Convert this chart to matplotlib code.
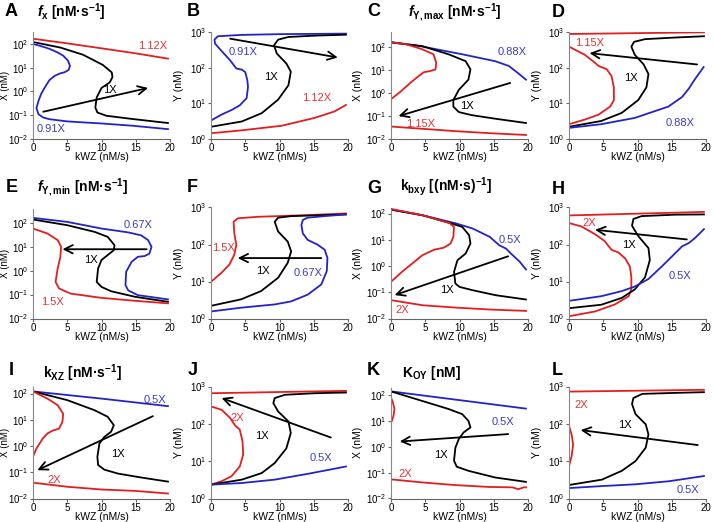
import matplotlib
matplotlib.use("Agg")
import matplotlib.pyplot as plt

plt.rcParams['font.family'] = ['Liberation Sans', 'DejaVu Sans']
plt.rcParams['mathtext.fontset'] = 'custom'
plt.rcParams['mathtext.rm'] = 'Liberation Sans'
plt.rcParams['mathtext.it'] = 'Liberation Sans:bold:italic'
plt.rcParams['mathtext.bf'] = 'Liberation Sans:bold'

RED = '#e41e1e'
BLUE = '#2323c8'
RED_T = '#e03535'
BLUE_T = '#3c3cc8'

# ---- curve data: (kWZ, value) ----
# A : X vs kWZ, parameter f_x
A_red = [(0,165),(5,105),(10,65),(15,40),(19.7,24)]
A_black = [(0,120),(4,70),(7.3,35),(10.2,13),(11.5,6.3),(11.6,4),(11.2,2.4),(10,1.4),(9.3,0.56),
           (9.1,0.21),(9.4,0.13),(10.7,0.095),(14.6,0.069),(19.7,0.047)]
A_blue = [(0,100),(1.2,80),(2.4,62),(3.5,45),(4.4,32),(5.1,20),(5.4,12),(5.2,8),(4.6,6.4),(4.0,5.8),
          (3.2,4.6),(2.4,3),(1.8,1.6),(1.2,0.8),(0.8,0.4),(0.5,0.2),(0.8,0.11),(1.5,0.08),(2.4,0.068),
          (5,0.055),(7.3,0.05),(10,0.045),(14.6,0.036),(19.7,0.026)]
# B : Y vs kWZ, parameter f_x
B_blue = [(0,3.3),(1.5,4.8),(3,6.5),(4.2,8.8),(5.2,14),(5.4,29),(5.3,45),(5,75),(4.5,88),(3.7,95),
          (2.8,160),(1.5,300),(0.6,470),(0.5,610),(1,760),(4.5,830),(10,870),(19.7,900)]
B_black = [(0,2.2),(4.5,3.1),(7.4,5.3),(9.8,12.7),(11.3,32),(11.65,77),(11,131),(9.6,250),(9.2,425),
           (9.8,610),(11.3,725),(15.1,790),(19.7,840)]
B_red = [(0,1.45),(4.5,1.75),(10.3,2.35),(15.1,3.9),(18,5.9),(19.7,9)]
# C : X, parameter f_Y,max
C_blue = [(0,170),(4.5,110),(10.4,50),(15.2,25),(17.2,15.5),(18.6,7.3),(19.7,3.9)]
C_black = [(0,165),(4.5,115),(8.4,50),(10.9,25),(11.6,11),(11.3,3.9),(9.9,1.4),(9.1,0.5),(9.1,0.26),
           (9.9,0.15),(11.8,0.11),(15.2,0.077),(19.7,0.05)]
C_red_hi = [(0,165),(2.1,140),(4.5,84),(6.2,50),(6.6,21.5),(6.5,11),(5.7,9.2),(4.8,8.3),(4,5.5),
            (2.8,2.8),(1.4,1.17),(0,0.55)]
C_red_lo = [(0,0.035),(4.5,0.028),(9.4,0.022),(14.3,0.018),(19.7,0.015)]
# D : Y, parameter f_Y,max
D_red_hi = [(0,880),(19.7,980)]
D_red_lo = [(0,390),(2.3,230),(3.8,137),(4.3,112),(5.5,90),(6.2,59),(6.55,28),(6.55,12.3),(6,8.1),
            (4.3,4.8),(2.3,3.5),(0,2.6)]
D_black = [(0,2.2),(4.7,3.2),(7.7,5.4),(10.1,12.3),(11.3,28),(11.6,66),(10.9,123),(9.6,230),(9.1,390),
           (9.5,530),(11.1,630),(15.5,700),(19.7,760)]
D_blue = [(0,2.05),(4.7,2.6),(9.6,3.9),(14.5,8.1),(16.5,15),(17.5,26),(18.4,48),(19.65,104)]
# E : X, parameter f_Y,min
E_blue = [(0,162),(5,110),(10,58),(13.9,40),(15.8,30),(16.8,19),(17.3,10),(17,5.2),(16.3,4.1),(15.3,3.8),
          (14.4,2.35),(13.6,0.9),(13.5,0.25),(13.9,0.15),(15.3,0.095),(19.7,0.063)]
E_black = [(0,138),(5,80),(9,42),(10.9,26),(11.9,11.7),(11.8,7.2),(10.9,4.5),(10,2.8),(9.5,1.23),
           (9.3,0.34),(10,0.21),(11.4,0.138),(14.9,0.081),(19.7,0.05)]
E_red = [(0,58),(2.1,36),(3.6,19),(4.1,10),(4,3.8),(3.6,1.23),(3.3,0.34),(3.8,0.18),(5.5,0.11),
         (10,0.073),(14.9,0.055),(19.7,0.043)]
# F : Y, parameter f_Y,min
F_red = [(0,9.8),(1.5,17),(2.7,29),(3.4,53),(3.7,98),(3.4,200),(3.3,413),(3.9,510),(6.8,560),
         (14.1,623),(19.7,690)]
F_black = [(0,2.2),(4.4,3.3),(7.3,5.5),(9.8,12.6),(11.2,32),(11.7,65),(11.2,120),(9.8,224),(9.3,413),
           (9.8,530),(11.7,585),(16.6,623),(19.7,650)]
F_blue = [(0,1.55),(4.4,1.96),(9.3,2.4),(11.7,2.9),(14.1,4.4),(16.1,8.3),(16.9,19),(17,43),(16.6,72),
          (15.6,98),(14.1,134),(13.4,200),(13.2,336),(13.4,460),(14.1,530),(16.6,585),(19.7,650)]
# G : X, parameter k_bxy
G_blue = [(0,142),(4.6,86),(9.5,42),(11.9,27),(14.4,13),(15.8,6.2),(16.8,4.6),(17.5,3.0),(18.8,1.45),
          (19.7,0.74)]
G_black = [(0,142),(4.6,86),(8.5,44),(10.4,31),(11.4,15),(11.6,7.2),(10.9,3.0),(9.7,1.66),(9.2,0.6),
           (9.4,0.215),(10,0.16),(11.9,0.12),(15.3,0.077),(19.7,0.053)]
G_red_hi = [(0,150),(4.6,86),(8.5,44),(9.2,31),(9.1,13),(8.7,7.2),(7.7,5),(6.3,4.2),(4.6,2.6),
            (3.1,1.25),(1.6,0.6),(0,0.25)]
G_red_lo = [(0,0.05),(4.6,0.032),(9.5,0.026),(14.4,0.022),(19.7,0.0195)]
# H : Y, parameter k_bxy
H_red_hi = [(0,610),(19.7,760)]
H_red_lo = [(0,380),(1.8,308),(3.8,190),(5.2,124),(6.2,72),(7.2,61),(8.2,42),(8.9,25),(9.1,13),
            (9.1,6.2),(8.7,4),(6.7,2.4),(3.8,1.55),(0,1.15)]
H_black = [(0,1.9),(4.7,2.35),(7.7,3.6),(9.6,6.1),(11.1,13),(11.8,38),(11.6,80),(10.1,170),(9.2,322),
           (9.4,490),(10.6,585),(15.5,640),(19.7,650)]
H_blue = [(0,3.0),(4.7,4),(7.7,5.5),(9.6,7.3),(11.6,11.7),(13.5,25),(15,47),(16.5,89),(17.5,110),
          (18.4,150),(19.7,260)]
# I : X, parameter k_XZ
I_blue = [(0,120),(10,64),(19.7,33)]
I_black = [(0,120),(5,56),(9,23),(10.9,13),(11.8,6.2),(11.4,3.5),(10.4,2.2),(9.7,1.25),(9.4,0.39),
           (9.5,0.19),(10.4,0.126),(12.4,0.089),(15.8,0.063),(19.7,0.044)]
I_red_hi = [(0,120),(2.1,64),(3.6,36),(4.4,17),(4.3,8.3),(3.8,4.6),(2.8,3.8),(2.1,3.0),(1.4,1.9),
            (0.5,0.8),(0,0.4)]
I_red_lo = [(0,0.04),(5,0.028),(10,0.022),(14.9,0.0195),(19.7,0.0155)]
# J : Y, parameter k_XZ
J_red_hi = [(0,660),(19.7,765)]
J_red_lo = [(0,292),(1.55,238),(2.8,143),(3.5,91),(4.2,70),(4.6,34),(4.7,15),(4.2,7.2),(3,3.96),
            (1.55,2.9),(0,2.35)]
J_black = [(0,2.35),(4.5,3.2),(7.4,4.8),(9.3,8.9),(11,22),(11.65,57),(11.3,116),(9.8,215),(9.1,358),
           (9.3,490),(10.8,600),(15.1,660),(19.7,690)]
J_blue = [(0,2.35),(4.5,2.6),(9.3,3.2),(14.2,4.6),(19.7,7.2)]
# K : X, parameter K_OY
K_blue = [(0,139),(19.7,30)]
K_black = [(0,139),(4.5,60),(8.4,29),(10.4,18.3),(11.3,10.1),(11.6,5.6),(10.6,3.6),(9.9,2.0),(9.4,0.93),
           (9.2,0.29),(9.6,0.17),(11.3,0.118),(15.2,0.065),(19.7,0.044)]
K_red_arc = [(0,80),(0.3,50),(0.5,28),(0.35,15),(0,8.5)]
K_red_lo = [(0,0.055),(4.5,0.042),(9.4,0.033),(14.3,0.028),(17.7,0.027),(18.6,0.023),(19.4,0.027),
            (19.7,0.027)]
# L : Y, parameter K_OY
L_red_hi = [(0,730),(19.7,815)]
L_red_arc = [(0,89),(0.4,50),(0.6,28),(0.4,14),(0,7.4)]
L_black = [(0,2.3),(4.8,3.2),(7.7,5.5),(9.7,10),(11.2,23),(11.6,52),(11.2,97),(9.7,183),(9.2,340),
           (9.4,490),(10.7,635),(15.6,675),(19.7,705)]
L_blue = [(0,1.9),(4.8,2.15),(9.7,2.4),(14.6,2.9),(19.7,4.0)]

panels = [
    dict(letter='A', var='X', ytop=316, lines=[(A_red, RED), (A_black, 'k'), (A_blue, BLUE)],
         arrow=((1.5, 0.14), (16.8, 1.4)),
         labels=[('1.12X', 17.4, 85, RED_T), ('1X', 11.2, 1.1, 'k'), ('0.91X', 2.7, 0.026, BLUE_T)]),
    dict(letter='B', var='Y', ytop=1000, lines=[(B_blue, BLUE), (B_black, 'k'), (B_red, RED)],
         arrow=((2.8, 650), (18.5, 193)),
         labels=[('0.91X', 4.7, 277, BLUE_T), ('1X', 8.8, 54, 'k'), ('1.12X', 15.4, 14, RED_T)]),
    dict(letter='C', var='X', ytop=470, lines=[(C_blue, BLUE), (C_black, 'k'), (C_red_hi, RED), (C_red_lo, RED)],
         arrow=((17.4, 2.8), (1.1, 0.1)),
         labels=[('0.88X', 17.7, 60, BLUE_T), ('1X', 11.1, 0.28, 'k'), ('1.15X', 4.3, 0.047, RED_T)]),
    dict(letter='D', var='Y', ytop=1000, lines=[(D_red_hi, RED), (D_red_lo, RED), (D_black, 'k'), (D_blue, BLUE)],
         arrow=((18.7, 123), (3.0, 255)),
         labels=[('1.15X', 3.0, 500, RED_T), ('1X', 9.0, 51, 'k'), ('0.88X', 16.2, 2.75, BLUE_T)]),
    dict(letter='E', var='X', ytop=440, lines=[(E_blue, BLUE), (E_black, 'k'), (E_red, RED)],
         arrow=((16.6, 7.9), (4.3, 7.9)),
         labels=[('0.67X', 15.3, 80, BLUE_T), ('1X', 8.5, 2.75, 'k'), ('1.5X', 2.8, 0.05, RED_T)]),
    dict(letter='F', var='Y', ytop=1000, lines=[(F_red, RED), (F_black, 'k'), (F_blue, BLUE)],
         arrow=((16.1, 43), (3.9, 43)),
         labels=[('1.5X', 1.85, 80, RED_T), ('1X', 7.6, 19, 'k'), ('0.67X', 14.1, 17, BLUE_T)]),
    dict(letter='G', var='X', ytop=170, lines=[(G_blue, BLUE), (G_black, 'k'), (G_red_hi, RED), (G_red_lo, RED)],
         arrow=((17.1, 2.35), (0.54, 0.078)),
         labels=[('0.5X', 17.3, 9.6, BLUE_T), ('1X', 8.1, 0.12, 'k'), ('2X', 1.6, 0.022, RED_T)]),
    dict(letter='H', var='Y', ytop=1000, lines=[(H_red_hi, RED), (H_red_lo, RED), (H_black, 'k'), (H_blue, BLUE)],
         arrow=((17.2, 137), (3.8, 250)),
         labels=[('2X', 2.9, 375, RED_T), ('1X', 8.7, 100, 'k'), ('0.5X', 16.2, 14.4, BLUE_T)]),
    dict(letter='I', var='X', ytop=185, lines=[(I_blue, BLUE), (I_black, 'k'), (I_red_hi, RED), (I_red_lo, RED)],
         arrow=((17.5, 13.7), (0.64, 0.12)),
         labels=[('0.5X', 17.8, 59, BLUE_T), ('1X', 12.4, 0.48, 'k'), ('2X', 3.1, 0.052, RED_T)]),
    dict(letter='J', var='Y', ytop=1000, lines=[(J_red_hi, RED), (J_red_lo, RED), (J_black, 'k'), (J_blue, BLUE)],
         arrow=((17.5, 43), (1.55, 490)),
         labels=[('2X', 3.8, 143, RED_T), ('1X', 7.5, 46, 'k'), ('0.5X', 16.0, 12.3, BLUE_T)]),
    dict(letter='K', var='X', ytop=215, lines=[(K_blue, BLUE), (K_black, 'k'), (K_red_arc, RED), (K_red_lo, RED)],
         arrow=((17.1, 3.1), (1.27, 1.6)),
         labels=[('0.5X', 16.4, 9.3, BLUE_T), ('1X', 7.35, 0.49, 'k'), ('2X', 2.1, 0.087, RED_T)]),
    dict(letter='L', var='Y', ytop=1000, lines=[(L_red_hi, RED), (L_red_arc, RED), (L_black, 'k'), (L_blue, BLUE)],
         arrow=((18.8, 27), (1.7, 68)),
         labels=[('2X', 1.8, 327, RED_T), ('1X', 8.2, 95, 'k'), ('0.5X', 17.3, 1.74, BLUE_T)]),
]

titles = {
    'A': r'$\mathit{f}_{\mathbf{x}}$ [nM·$\mathbf{s}^{\mathbf{-1}}$]',
    'C': r'$\mathit{f}_{\mathbf{Y,max}}$ [nM·$\mathbf{s}^{\mathbf{-1}}$]',
    'E': r'$\mathit{f}_{\mathbf{Y,min}}$ [nM·$\mathbf{s}^{\mathbf{-1}}$]',
    'G': r'$\mathbf{k}_{\mathbf{bxy}}$ [(nM·$\mathbf{s)}^{\mathbf{-1}}$]',
    'I': r'$\mathbf{k}_{\mathbf{XZ}}$ [nM·$\mathbf{s}^{\mathbf{-1}}$]',
    'K': r'$\mathbf{K}_{\mathbf{OY}}$ [nM]',
}

W, H = 714, 522
fig = plt.figure(figsize=(W / 100, H / 100), dpi=100)

col_left = [33, 211, 391, 569]
col_w = 137
ylab_off = [-23, -27, -28, -27]
row_top = [32, 207.5, 386.5]
row_bot = [139, 318.5, 498.5]
letter_pos = [(5, 3), (187, 3), (367, 3), (552, 4),
              (6, 179), (187, 179), (367, 180), (552, 181),
              (9, 362), (188, 362), (367, 362), (552, 362)]
title_pos = {'A': (37, 12), 'C': (408, 12), 'E': (37, 187), 'G': (400, 187), 'I': (43, 373), 'K': (402, 373)}

for i, p in enumerate(panels):
    r, c = divmod(i, 4)
    ax = fig.add_axes([col_left[c] / W, 1 - row_bot[r] / H, col_w / W, (row_bot[r] - row_top[r]) / H])
    for pts, col in p['lines']:
        xs = [q[0] for q in pts]
        ys = [q[1] for q in pts]
        ax.plot(xs, ys, color=col, lw=1.3, solid_joinstyle='round')
    ax.set_yscale('log')
    ax.set_xlim(0, 20)
    if p['var'] == 'X':
        ax.set_ylim(0.01, p['ytop'])
        ax.set_yticks([0.01, 0.1, 1, 10, 100])
    else:
        ax.set_ylim(1, 1000)
        ax.set_yticks([1, 10, 100, 1000])
    ax.set_xticks([0, 5, 10, 15, 20])
    ax.minorticks_off()
    ax.tick_params(labelsize=7, length=2, width=0.8, color='#666666', pad=1)
    ax.set_xlabel('kWZ (nM/s)', fontsize=7.5, labelpad=-0.5)
    ax.set_ylabel(p['var'] + ' (nM)', fontsize=7 if c == 0 else 7.5)
    ax.yaxis.set_label_coords(ylab_off[c] / col_w, 0.5)
    for s in ['top', 'right']:
        ax.spines[s].set_visible(False)
    ax.spines['bottom'].set_color('#666666')
    ax.spines['left'].set_color('#888888')
    ax.spines['left'].set_linestyle((0, (1, 1)))
    (x0, y0), (x1, y1) = p['arrow']
    ax.annotate('', xy=(x1, y1), xytext=(x0, y0),
                arrowprops=dict(arrowstyle='->', color='black', lw=1.3, mutation_scale=15,
                                shrinkA=0, shrinkB=0))
    for txt, tx, ty, tc in p['labels']:
        ax.text(tx, ty, txt, color=tc, fontsize=8, ha='center', va='center')
    lx, ly = letter_pos[i]
    fig.text(lx / W, 1 - ly / H, p['letter'], fontsize=13, fontweight='bold', ha='left', va='top')
    if p['letter'] in titles:
        tx, ty = title_pos[p['letter']]
        fig.text(tx / W, 1 - ty / H, titles[p['letter']], fontsize=10, fontweight='bold',
                 ha='left', va='center')

fig.savefig('out.png', dpi=100)
